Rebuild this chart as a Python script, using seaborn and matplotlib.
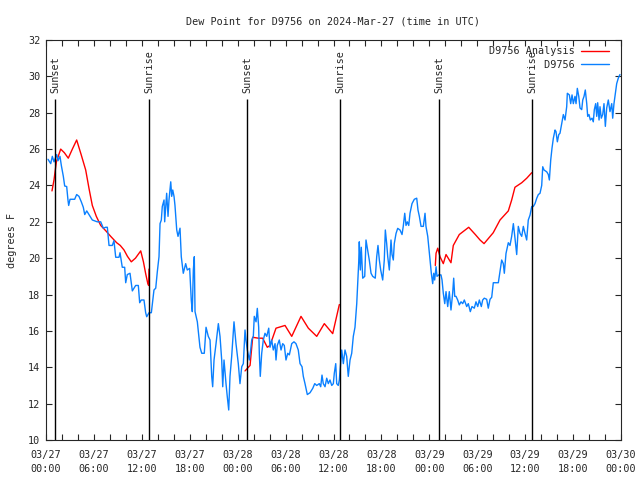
import pandas as pd
import numpy as np
import matplotlib
matplotlib.use('Agg')
import matplotlib.pyplot as plt
import matplotlib.dates as mdates
import seaborn as sns
from matplotlib.lines import Line2D

start = pd.Timestamp('2024-03-27 00:00')

# D9756 observations: hours after start, dew point (F)
obs_hours = [0.25, 0.59, 0.79, 1.00, 1.34, 1.50, 1.75, 1.92, 2.17, 2.34, 2.59, 2.75, 2.84, 3.01, 3.59,
             3.84, 4.13, 4.42, 4.67, 4.85, 5.10, 5.38, 5.80, 6.42, 6.85, 7.18, 7.48, 7.68, 7.89, 8.30,
             8.51, 8.73, 9.14, 9.27, 9.55, 9.85, 9.98, 10.18, 10.52, 10.81, 11.23, 11.56, 11.73, 11.93,
             12.27, 12.48, 12.61, 12.90, 13.19, 13.52, 13.74, 13.94, 14.15, 14.28, 14.44, 14.56, 14.78,
             14.86, 15.11, 15.28, 15.40, 15.62, 15.74, 15.87, 16.03, 16.15, 16.37, 16.53, 16.78, 16.94,
             17.19, 17.49, 17.69, 17.99, 18.19, 18.32, 18.45, 18.57, 18.66, 18.95, 19.28, 19.50, 19.82,
             20.04, 20.32, 20.54, 20.75, 20.87, 21.04, 21.29, 21.58, 21.79, 22.00, 22.13, 22.29, 22.54,
             22.70, 22.88, 23.04, 23.25, 23.54, 23.79, 24.08, 24.29, 24.51, 24.71, 24.92, 25.04, 25.21,
             25.46, 25.63, 25.76, 25.96, 26.08, 26.30, 26.46, 26.63, 26.71, 26.83, 27.01, 27.21, 27.42,
             27.64, 27.89, 28.05, 28.26, 28.46, 28.68, 28.80, 28.96, 29.21, 29.43, 29.64, 29.84, 30.05,
             30.27, 30.47, 30.77, 31.05, 31.30, 31.59, 31.81, 32.06, 32.22, 32.43, 32.72, 33.06, 33.40,
             33.65, 33.90, 34.22, 34.40, 34.56, 34.72, 34.94, 35.15, 35.35, 35.56, 35.78, 35.98, 36.10,
             36.28, 36.40, 36.60, 36.73, 37.03, 37.23, 37.44, 37.65, 37.85, 38.07, 38.28, 38.48, 38.69,
             38.91, 39.16, 39.23, 39.36, 39.48, 39.66, 39.91, 40.07, 40.28, 40.48, 40.70, 40.91, 41.23,
             41.41, 41.57, 41.74, 41.91, 42.16, 42.36, 42.49, 42.66, 42.79, 42.99, 43.20, 43.33, 43.49,
             43.61, 43.83, 44.04, 44.33, 44.58, 44.74, 44.92, 45.08, 45.24, 45.42, 45.58, 45.83, 46.12,
             46.42, 46.58, 46.75, 46.96, 47.25, 47.46, 47.58, 47.80, 47.92, 48.08, 48.25, 48.42, 48.55,
             48.67, 48.84, 48.96, 49.17, 49.46, 49.59, 49.75, 49.93, 50.09, 50.30, 50.50, 50.71, 50.92,
             51.05, 51.18, 51.34, 51.55, 51.75, 51.97, 52.18, 52.38, 52.68, 52.88, 53.13, 53.34, 53.63,
             53.84, 54.06, 54.26, 54.51, 54.68, 54.88, 55.18, 55.38, 55.60, 55.81, 56.01, 56.64, 56.85,
             57.06, 57.26, 57.39, 57.60, 57.89, 58.10, 58.31, 58.52, 58.73, 58.94, 59.14, 59.36, 59.57,
             59.77, 59.98, 60.19, 60.39, 60.61, 60.82, 61.02, 61.23, 61.45, 61.65, 61.86, 62.07, 62.20,
             62.36, 62.70, 62.90, 63.03, 63.20, 63.36, 63.53, 63.74, 63.86, 64.03, 64.21, 64.36, 64.58,
             64.78, 64.99, 65.20, 65.28, 65.53, 65.70, 65.87, 66.03, 66.24, 66.37, 66.53, 66.71, 66.87,
             67.08, 67.21, 67.37, 67.53, 67.71, 67.83, 67.99, 68.16, 68.37, 68.53, 68.66, 68.83, 68.96,
             69.08, 69.25, 69.37, 69.53, 69.71, 69.87, 70.04, 70.21, 70.41, 70.62, 70.84, 70.96, 71.12,
             71.29, 71.46, 71.66, 71.87]
obs_dewpt = [25.44, 25.2, 25.6, 25.3, 25.7, 25.36, 25.6, 25.1, 24.5, 23.97, 23.94, 23.2, 22.9, 23.24, 23.24,
             23.5, 23.4, 23.1, 22.8, 22.4, 22.6, 22.4, 22.1, 22.0, 22.0, 21.65, 21.7, 21.7, 20.7, 20.7,
             20.96, 20.05, 20.05, 20.3, 19.5, 19.5, 18.65, 19.1, 19.17, 18.2, 18.5, 18.5, 17.55, 17.7,
             17.7, 17.0, 16.78, 17.0, 17.0, 18.25, 18.35, 19.26, 20.08, 21.9, 22.1, 22.84, 23.2,
             22.0, 23.57, 22.3, 23.2, 24.2, 23.4, 23.75, 23.4, 22.9, 21.55, 21.2, 21.65, 20.08,
             19.17, 19.7, 19.35, 19.44, 17.7, 17.06, 19.35, 20.08, 17.06, 16.5, 15.1, 14.77, 14.77,
             16.2, 15.7, 15.5, 13.5, 12.93, 14.4, 15.3, 16.4, 15.7, 14.4, 12.93, 14.4, 13.1,
             12.38, 11.65, 13.5, 14.6, 16.5, 15.3, 14.2, 13.1, 14.03, 14.2, 16.05, 15.5, 14.95,
             14.4, 14.95, 15.5, 15.7, 16.8, 16.5, 17.24, 16.2, 14.77, 13.5, 14.77, 15.5, 15.87,
             15.7, 16.15, 15.1, 15.5, 14.95, 15.3, 14.4, 15.2, 15.5, 14.95, 15.3, 15.2, 14.4,
             14.77, 14.68, 15.3, 15.4, 15.3, 14.95, 14.2, 14.03, 13.5, 13.1, 12.5, 12.6, 12.84,
             13.1, 13.0, 13.1, 12.93, 13.57, 13.1, 12.93, 13.4, 13.1, 13.3, 13.0, 13.1, 13.67,
             14.2, 13.1, 13.0, 13.3, 14.95, 14.2, 14.95, 14.6, 13.5, 14.4, 14.77, 15.7, 16.2,
             17.5, 19.8, 20.9, 19.35, 20.6, 18.9, 19.0, 21.0, 20.45, 19.9, 19.17, 19.0, 18.9,
             20.08, 20.7, 19.9, 19.35, 18.8, 19.9, 21.55, 20.8, 20.08, 19.35, 21.0, 20.2, 19.9,
             20.8, 21.36, 21.64, 21.55, 21.3, 21.77, 22.47, 21.8, 22.0, 21.8, 22.47, 23.0, 23.24,
             23.3, 22.65, 22.3, 21.75, 21.75, 22.47, 21.75, 21.2, 20.65, 19.9, 19.17, 18.6, 19.17,
             18.8, 19.53, 19.0, 19.08, 19.08, 18.8, 18.07, 17.5, 18.16, 17.34, 18.16, 17.15, 18.07,
             18.9, 17.9, 17.9, 17.7, 17.43, 17.6, 17.5, 17.7, 17.34, 17.5, 17.06, 17.34, 17.25,
             17.6, 17.34, 17.7, 17.34, 17.7, 17.8, 17.74, 17.25, 17.74, 17.85, 18.65, 18.65, 19.26,
             19.9, 19.7, 19.17, 20.26, 20.85, 20.7, 21.2, 21.9, 21.08, 20.2, 21.75, 21.36, 21.2,
             21.75, 21.36, 21.0, 22.1, 22.37, 22.84, 22.84, 23.0, 23.3, 23.5, 23.57, 24.0, 25.03,
             24.85, 24.75, 24.6, 24.3, 25.4, 26.05, 26.6, 27.05, 26.96, 26.4, 26.8, 26.87, 27.4,
             27.9, 27.6, 28.33, 29.07, 28.98, 28.5, 28.98, 28.5, 28.9, 28.5, 29.34, 28.9, 28.26,
             28.17, 28.7, 28.9, 29.25, 28.5, 27.8, 27.9, 27.6, 27.7, 27.5, 28.17, 28.5, 27.8,
             28.55, 27.6, 28.33, 27.7, 27.9, 28.5, 27.25, 28.26, 28.7, 28.06, 28.5, 27.7, 28.5,
             29.07, 29.6, 29.9, 30.1]

# D9756 Analysis: three separate segments
ana_hours_1 = [0.75, 1.0, 1.3, 1.84, 2.3, 2.79, 3.3, 3.84, 4.4, 4.97, 5.4, 5.8, 6.3, 6.85, 7.5, 8.1,
               8.85, 9.3, 9.77, 10.2, 10.68, 11.2, 11.86, 12.2, 12.48, 12.75, 12.85, 12.9]
ana_dewpt_1 = [23.7, 24.3, 25.3, 26.0, 25.8, 25.5, 26.0, 26.5, 25.7, 24.85, 23.8, 22.9, 22.3, 21.8, 21.5, 21.2,
               20.85, 20.7, 20.45, 20.1, 19.8, 20.0, 20.4, 19.8, 19.15, 18.6, 18.5, 19.4]
ana_hours_2 = [24.92, 25.55, 25.88, 26.58, 27.13, 27.71, 28.05, 28.8, 29.93, 30.77, 31.93, 32.85, 33.9,
               34.85, 35.9, 36.73]
ana_dewpt_2 = [13.8, 14.1, 15.65, 15.6, 15.6, 15.1, 15.2, 16.15, 16.3, 15.7, 16.8, 16.15, 15.7,
               16.4, 15.85, 17.45]
ana_hours_3 = [48.75, 48.84, 49.05, 49.34, 49.75, 50.09, 50.71, 51.0, 51.75, 52.93, 53.76, 54.35, 54.85,
               56.0, 56.85, 57.89, 58.31, 58.72, 59.57, 60.2, 60.82]
ana_dewpt_3 = [19.6, 20.27, 20.55, 20.08, 19.7, 20.2, 19.75, 20.7, 21.3, 21.7, 21.3, 21.0, 20.8,
               21.4, 22.1, 22.6, 23.2, 23.9, 24.15, 24.4, 24.7]

sun_times = ['2024-03-27 01:08', '2024-03-27 12:54', '2024-03-28 01:10',
             '2024-03-28 12:50', '2024-03-29 01:12', '2024-03-29 12:52']
sun_labels = ['Sunset', 'Sunrise', 'Sunset', 'Sunrise', 'Sunset', 'Sunrise']

sns.set_style('ticks')
plt.rcParams['font.family'] = ['DejaVu Sans Mono', 'DejaVu Sans']
plt.rcParams['font.size'] = 7.3

obs = pd.DataFrame({'time': start + pd.to_timedelta(obs_hours, unit='h'), 'dewpt': obs_dewpt})
ana = pd.concat([
    pd.DataFrame({'time': start + pd.to_timedelta(h, unit='h'), 'dewpt': v, 'seg': i})
    for i, (h, v) in enumerate([(ana_hours_1, ana_dewpt_1), (ana_hours_2, ana_dewpt_2),
                                (ana_hours_3, ana_dewpt_3)])
])

fig = plt.figure(figsize=(6.4, 4.8), dpi=100)
ax = fig.add_axes([46 / 640, 40 / 480, 575 / 640, 400 / 480])

sns.lineplot(data=ana, x='time', y='dewpt', units='seg', estimator=None, color='#ff0000',
             lw=1.0, ax=ax)
sns.lineplot(data=obs, x='time', y='dewpt', color='#0a80ff', lw=1.0, ax=ax)

# sunrise / sunset markers
for t, lab in zip(sun_times, sun_labels):
    tt = pd.Timestamp(t)
    ax.vlines(tt, 10, 28.75, color='black', lw=1.0)
    ax.text(tt, 29.1, lab, rotation=90, ha='center', va='bottom', fontsize=7.3)

ax.set_xlim(start, start + pd.Timedelta(hours=72))
ax.set_ylim(10, 32)
ax.set_yticks(np.arange(10, 33, 2))
ax.xaxis.set_major_locator(mdates.HourLocator(byhour=[0, 6, 12, 18]))
ax.xaxis.set_minor_locator(mdates.HourLocator(byhour=range(0, 24, 2)))
ax.xaxis.set_major_formatter(mdates.DateFormatter('%m/%d\n%H:%M'))
ax.tick_params(axis='both', which='both', direction='in', top=True, right=True,
               length=4, width=0.8, labelsize=7.3, pad=4)
ax.tick_params(axis='x', which='major', pad=7)
for lbl in ax.get_xticklabels():
    lbl.set_linespacing(1.5)
for s in ax.spines.values():
    s.set_visible(True)
    s.set_linewidth(0.8)

ax.set_xlabel('')
ax.set_ylabel('degrees F', fontsize=7.3, labelpad=8)
ax.set_title('Dew Point for D9756 on 2024-Mar-27 (time in UTC)', fontsize=7.3, pad=11)

handles = [Line2D([], [], color='#ff0000', lw=1.0), Line2D([], [], color='#0a80ff', lw=1.0)]
ax.legend(handles, ['D9756 Analysis', '         D9756'], loc='upper right',
          bbox_to_anchor=(1 - 6 / 575, 1.0), frameon=False,
          markerfirst=False, handlelength=2.8, handletextpad=0.6, labelspacing=0.35,
          borderaxespad=0.2, fontsize=7.3)

fig.savefig('out.png', dpi=100)
